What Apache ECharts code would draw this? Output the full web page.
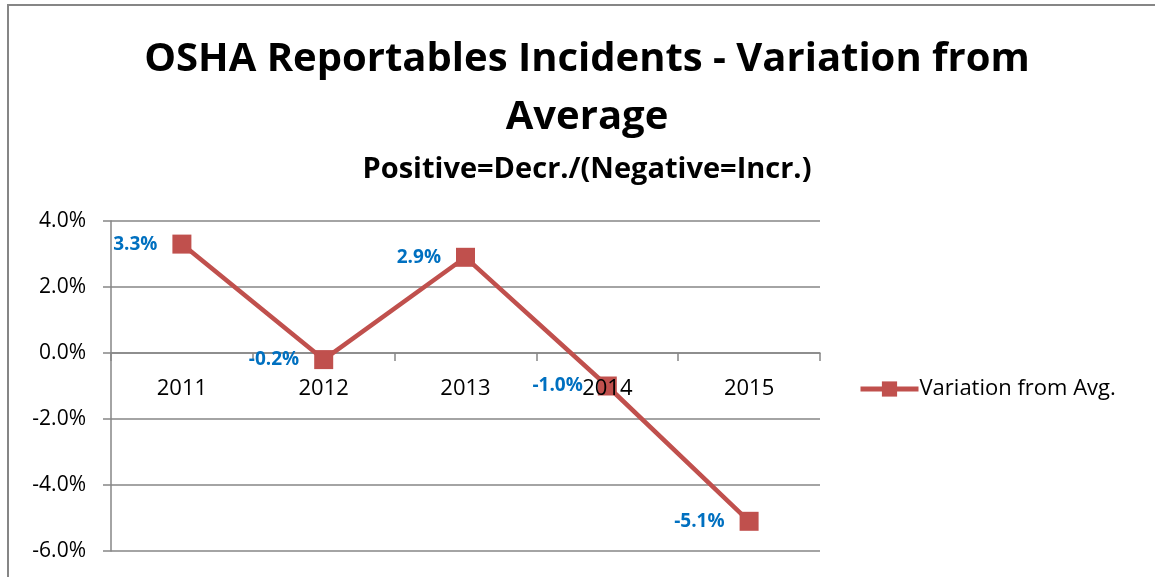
<!DOCTYPE html>
<html>
<head>
<meta charset="utf-8">
<script src="https://cdn.jsdelivr.net/npm/echarts@6/dist/echarts.min.js"></script>
<style>
  html, body { margin: 0; padding: 0; background: #fff; }
  #main { width: 1155px; height: 577px; }
</style>
</head>
<body>
<div id="main"></div>
<script>
// data
var years = ["2011", "2012", "2013", "2014", "2015"];
var variation = [3.3, -0.2, 2.9, -1.0, -5.1];
var seriesName = "Variation from Avg.";

var font = "Open Sans";
var myChart = echarts.init(document.getElementById("main"));
var option = {
    backgroundColor: "#fff",
    textStyle: { fontFamily: font },
    graphic: [{
        type: "rect",
        shape: { x: 8, y: 5, width: 1200, height: 620 },
        style: { fill: "none", stroke: "#868686", lineWidth: 2 },
        silent: true
    }],
    title: {
        text: "OSHA Reportables Incidents - Variation from\nAverage",
        subtext: "Positive=Decr./(Negative=Incr.)",
        left: 582,
        textAlign: "center",
        top: 26,
        itemGap: 8,
        textStyle: {
            fontFamily: font,
            fontSize: 40,
            fontWeight: "bold",
            color: "#000",
            lineHeight: 58
        },
        subtextStyle: {
            fontFamily: font,
            fontSize: 29,
            fontWeight: "bold",
            color: "#000"
        }
    },
    legend: {
        left: 853,
        top: 373,
        itemWidth: 58,
        itemHeight: 19,
        itemGap: 4,
        lineStyle: { width: 5 },
        textStyle: { fontFamily: font, fontSize: 22, color: "#000", padding: [0, 0, 0, -4] },
        data: [seriesName]
    },
    grid: {
        left: 111,
        right: 335,
        top: 221,
        bottom: 26,
        containLabel: false,
        outerBoundsMode: "none"
    },
    xAxis: [{
        type: "category",
        data: years,
        axisLine: { onZero: true, lineStyle: { color: "#868686", width: 1.5 } },
        axisTick: { show: true, length: 8, inside: false, lineStyle: { color: "#868686", width: 1.5 } },
        axisLabel: { show: false },
        splitLine: { show: false }
    }, {
        // label row that sits under the zero line
        type: "category",
        data: years,
        position: "top",
        offset: -132,
        z: 10,
        axisLine: { show: false },
        axisTick: { show: false },
        axisLabel: { inside: true, color: "#000", fontSize: 22, margin: 25, fontFamily: font },
        splitLine: { show: false }
    }],
    yAxis: {
        type: "value",
        min: -6,
        max: 4,
        interval: 2,
        axisLine: { show: true, lineStyle: { color: "#868686", width: 1.5 } },
        axisTick: { show: true, length: 8, lineStyle: { color: "#868686", width: 1.5 } },
        axisLabel: {
            color: "#000",
            fontSize: 21,
            margin: 25,
            fontFamily: font,
            formatter: function (v) { return v.toFixed(1) + "%"; }
        },
        splitLine: { show: true, lineStyle: { color: "#868686", width: 1.5 } }
    },
    series: [{
        name: seriesName,
        type: "line",
        data: variation,
        symbol: "rect",
        symbolSize: 19,
        lineStyle: { color: "#C0504D", width: 4.5 },
        itemStyle: { color: "#C0504D" },
        label: {
            show: true,
            position: "left",
            distance: 15,
            color: "#0070C0",
            fontWeight: "bold",
            fontSize: 19,
            fontFamily: font,
            formatter: function (p) { return p.value.toFixed(1) + "%"; }
        },
        z: 3
    }]
};
myChart.setOption(option);
window.addEventListener("resize", function () {
    myChart.resize();
});
</script>
</body>
</html>
